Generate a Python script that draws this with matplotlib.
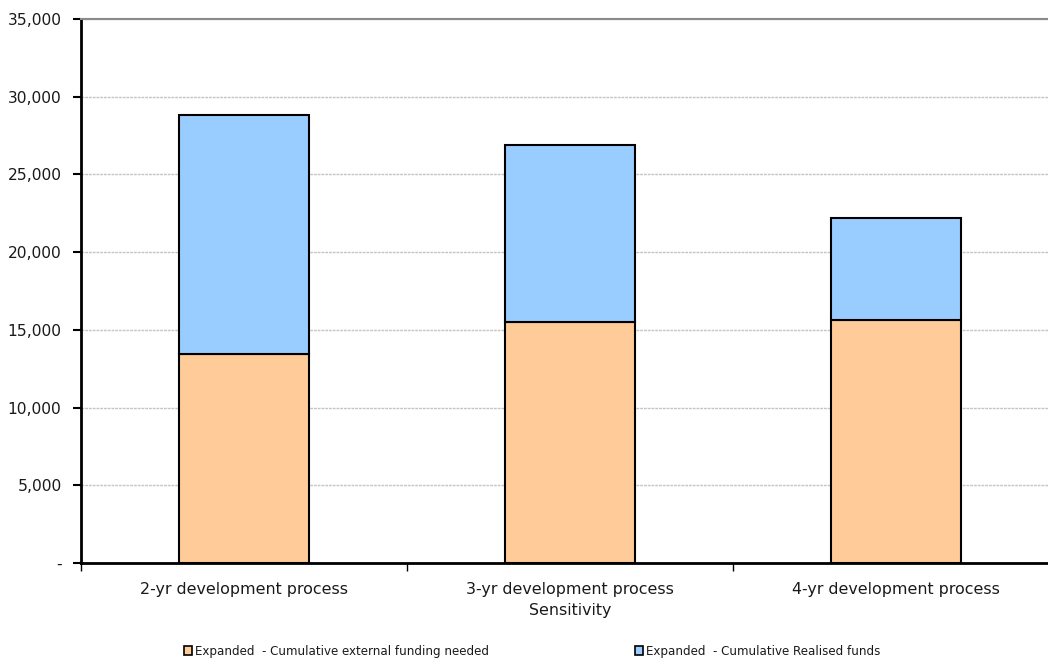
import numpy as np
import matplotlib.pyplot as plt
from matplotlib.patches import Patch
from matplotlib.ticker import FuncFormatter

# Cumulative funding by development-process length
categories = ["2-yr development process", "3-yr development process", "4-yr development process"]
external_funding = [13450, 15510, 15640]
realised_funds = [15380, 11390, 6560]
series_names = ["Expanded  - Cumulative external funding needed",
                "Expanded  - Cumulative Realised funds"]

orange = "#FFCC99"
blue = "#99CCFF"

plt.rcParams["font.family"] = "DejaVu Sans"

fig = plt.figure(figsize=(10.48, 6.59), dpi=100)
ax = fig.add_axes([81 / 1048, 96 / 659, 978 / 1048, 544 / 659])

x = np.arange(len(categories))
ax.bar(x, external_funding, width=0.4, color=orange, edgecolor="black", linewidth=1.5, zorder=3)
ax.bar(x, realised_funds, width=0.4, bottom=external_funding, color=blue,
       edgecolor="black", linewidth=1.5, zorder=3)

ax.set_xlim(-0.5, 2.5)
ax.set_ylim(0, 35000)
ax.set_yticks(np.arange(0, 35001, 5000))
ax.yaxis.set_major_formatter(FuncFormatter(lambda v, p: "-" if v == 0 else f"{v:,.0f}"))
ax.tick_params(axis="y", direction="out", length=6, width=1.5, labelsize=11.2, pad=8,
               labelcolor="#1a1a1a")

# category boundaries get the tick marks, labels sit between them
ax.set_xticks([-0.5, 0.5, 1.5, 2.5])
ax.set_xticklabels([])
ax.set_xticks(x, minor=True)
ax.set_xticklabels(categories, minor=True)
ax.tick_params(axis="x", which="major", direction="out", length=6, width=1)
ax.tick_params(axis="x", which="minor", length=0, labelsize=11.4, pad=14,
               labelcolor="#1a1a1a")
ax.set_xlabel("Sensitivity", fontsize=11.4, labelpad=4, color="#1a1a1a")

ax.grid(axis="y", color="#C4C4C4", linestyle=(0, (2, 0.7)), linewidth=1, zorder=0)
ax.spines["right"].set_visible(False)
ax.spines["top"].set_color("#8a8a8a")
ax.spines["top"].set_linewidth(1.5)
ax.spines["left"].set_linewidth(2)
ax.spines["bottom"].set_linewidth(2)

handles = [Patch(facecolor=orange, edgecolor="black", linewidth=1.2),
           Patch(facecolor=blue, edgecolor="black", linewidth=1.2)]
fig.legend(handles, series_names, loc="center left", bbox_to_anchor=(178 / 1048, 8 / 659),
           ncol=2, frameon=False, fontsize=8.6, handlelength=0.7, handleheight=0.7,
           handletextpad=0.25, columnspacing=12.2, borderpad=0, labelcolor="#1a1a1a")

fig.savefig("out.png", dpi=100)
